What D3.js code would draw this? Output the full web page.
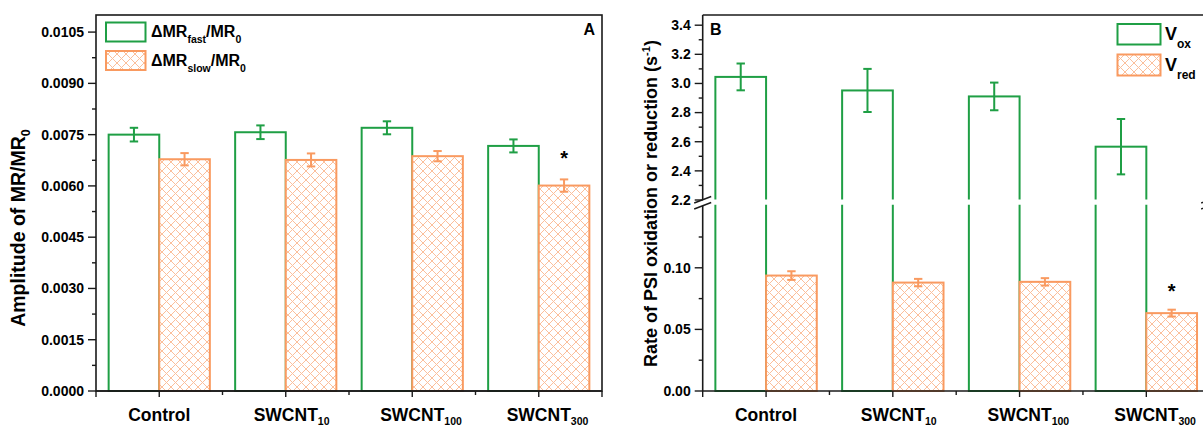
<!DOCTYPE html>
<html><head><meta charset="utf-8">
<script src="https://cdn.jsdelivr.net/npm/d3@7"></script>
<style>
body{margin:0;background:#fff}
svg{display:block}
text{font-family:"Liberation Sans",Arial,sans-serif;font-weight:bold;fill:#000}
</style>
</head><body>
<svg id="c" width="1203" height="427"></svg>
<script>
// ---------- data ----------
const categories = ["Control", "SWCNT10", "SWCNT100", "SWCNT300"];
const catMain = ["Control", "SWCNT", "SWCNT", "SWCNT"];
const catSub = ["", "10", "100", "300"];

// Panel A
const fastA = [0.00750, 0.00757, 0.00770, 0.00717];
const fastAErr = [0.00020, 0.00020, 0.00019, 0.00019];
const slowA = [0.00678, 0.00676, 0.00687, 0.00601];
const slowAErr = [0.00018, 0.00019, 0.00015, 0.00018];
const ticksA = [0, 0.0015, 0.0030, 0.0045, 0.0060, 0.0075, 0.0090, 0.0105];
const signifA = [false, false, false, true];

// Panel B
const vOx = [3.045, 2.952, 2.911, 2.566];
const vOxErr = [0.092, 0.148, 0.095, 0.190];
const vRed = [0.0937, 0.0880, 0.0886, 0.0632];
const vRedErr = [0.0035, 0.0030, 0.0030, 0.0028];
const ticksBUpper = [2.2, 2.4, 2.6, 2.8, 3.0, 3.2, 3.4];
const ticksBLower = [0, 0.05, 0.10];
const signifB = [false, false, false, true];

// ---------- style ----------
const GREEN = "#1f9f45", ORANGE = "#f99a60", HATCH = "#fbbf9b", AXIS = "#1a1a1a";
const svg = d3.select("#c");

const defs = svg.append("defs");
const pat = defs.append("pattern").attr("id", "hatch").attr("patternUnits", "userSpaceOnUse")
  .attr("width", 9).attr("height", 9);
pat.append("rect").attr("width", 9).attr("height", 9).attr("fill", "#fff");
pat.append("path").attr("d", "M0,0L9,9M9,0L0,9M-1,8L1,10M8,-1L10,1M-1,1L1,-1M8,10L10,8")
  .attr("stroke", HATCH).attr("stroke-width", 1).attr("fill", "none");

function clip(id, x, y, w, h) {
  defs.append("clipPath").attr("id", id).append("rect").attr("x", x).attr("y", y).attr("width", w).attr("height", h);
}

function drawXAxis(g, x, y0, left, right) {
  g.append("line").attr("x1", left).attr("x2", right).attr("y1", y0).attr("y2", y0)
    .attr("stroke", AXIS).attr("stroke-width", 1.6);
  const step = x.step();
  categories.forEach((c, i) => {
    const cx = x(c) + x.bandwidth() / 2;
    g.append("line").attr("x1", cx).attr("x2", cx).attr("y1", y0).attr("y2", y0 + 6)
      .attr("stroke", AXIS).attr("stroke-width", 1.4);
    if (i < categories.length - 1) {
      const mx = cx + step / 2;
      g.append("line").attr("x1", mx).attr("x2", mx).attr("y1", y0).attr("y2", y0 + 4)
        .attr("stroke", AXIS).attr("stroke-width", 1.4);
    }
    const t = g.append("text").attr("y", 420.5).attr("font-size", 17.5);
    const main = t.append("tspan").text(catMain[i]);
    if (catSub[i]) t.append("tspan").attr("font-size", 10.5).attr("dy", 4).text(catSub[i]);
    const w = main.node().getComputedTextLength();
    t.attr("x", cx - w / 2);
  });
  [left, right].forEach(xx => {
    g.append("line").attr("x1", xx).attr("x2", xx).attr("y1", y0).attr("y2", y0 + 6)
      .attr("stroke", AXIS).attr("stroke-width", 1.4);
  });
}

function yTicks(g, xAxis, y, ticks, minors, fmt) {
  ticks.forEach(v => {
    g.append("line").attr("x1", xAxis - 8).attr("x2", xAxis).attr("y1", y(v)).attr("y2", y(v))
      .attr("stroke", AXIS).attr("stroke-width", 1.4);
    g.append("text").attr("x", xAxis - 12).attr("y", y(v)).attr("dy", "0.35em")
      .attr("text-anchor", "end").attr("font-size", 14).text(fmt(v));
  });
  minors.forEach(v => {
    g.append("line").attr("x1", xAxis - 4).attr("x2", xAxis).attr("y1", y(v)).attr("y2", y(v))
      .attr("stroke", AXIS).attr("stroke-width", 1.4);
  });
}

function errBar(g, cx, yTop, yBot, color) {
  g.append("line").attr("x1", cx).attr("x2", cx).attr("y1", yTop).attr("y2", yBot)
    .attr("stroke", color).attr("stroke-width", 2);
  [yTop, yBot].forEach(yy => g.append("line").attr("x1", cx - 4.2).attr("x2", cx + 4.2)
    .attr("y1", yy).attr("y2", yy).attr("stroke", color).attr("stroke-width", 2));
}

// ================= Panel A =================
{
  const L = 96, R = 602, T = 15, B = 391;
  const g = svg.append("g");
  const x = d3.scaleBand().domain(categories).range([L, R]).paddingInner(0.2).paddingOuter(0.1);
  const x1 = d3.scaleBand().domain(["fast", "slow"]).range([0, x.bandwidth()]);
  const y = d3.scaleLinear().domain([0, 0.011]).range([B, T]);

  categories.forEach((c, i) => {
    g.append("rect").attr("x", x(c) + x1("fast")).attr("width", x1.bandwidth())
      .attr("y", y(fastA[i])).attr("height", B - y(fastA[i]))
      .attr("fill", "#fff").attr("stroke", GREEN).attr("stroke-width", 2);
    errBar(g, x(c) + x1("fast") + x1.bandwidth() / 2, y(fastA[i] + fastAErr[i]), y(fastA[i] - fastAErr[i]), GREEN);
  });
  categories.forEach((c, i) => {
    g.append("rect").attr("x", x(c) + x1("slow")).attr("width", x1.bandwidth())
      .attr("y", y(slowA[i])).attr("height", B - y(slowA[i]))
      .attr("fill", "url(#hatch)").attr("stroke", ORANGE).attr("stroke-width", 2);
    const cx = x(c) + x1("slow") + x1.bandwidth() / 2;
    errBar(g, cx, y(slowA[i] + slowAErr[i]), y(slowA[i] - slowAErr[i]), ORANGE);
    if (signifA[i]) g.append("text").attr("x", cx).attr("y", y(slowA[i] + slowAErr[i]) - 14)
      .attr("text-anchor", "middle").attr("font-size", 20).text("*");
  });

  g.append("rect").attr("x", L).attr("y", T).attr("width", R - L).attr("height", B - T)
    .attr("fill", "none").attr("stroke", AXIS).attr("stroke-width", 1.6);
  drawXAxis(g, x, B, L, R);
  const minors = d3.range(0.00075, 0.0110, 0.0015);
  yTicks(g, L, y, ticksA, minors, d3.format(".4f"));

  g.append("text").attr("transform", `translate(25,228) rotate(-90)`).attr("text-anchor", "middle")
    .attr("font-size", 19.5)
    .call(t => { t.append("tspan").text("Amplitude of MR/MR"); t.append("tspan").attr("font-size", 12.5).attr("dy", 5).text("0"); });

  g.append("text").attr("x", 595).attr("y", 35).attr("text-anchor", "end").attr("font-size", 16).text("A");

  // legend
  g.append("rect").attr("x", 106).attr("y", 22.5).attr("width", 39.5).attr("height", 19)
    .attr("fill", "#fff").attr("stroke", GREEN).attr("stroke-width", 2);
  g.append("rect").attr("x", 106).attr("y", 51).attr("width", 39.5).attr("height", 19)
    .attr("fill", "url(#hatch)").attr("stroke", ORANGE).attr("stroke-width", 2);
  g.append("text").attr("x", 151).attr("y", 37).attr("font-size", 16)
    .call(t => {
      t.append("tspan").text("ΔMR");
      t.append("tspan").attr("font-size", 10.5).attr("dy", 6).text("fast");
      t.append("tspan").attr("dy", -6).text("/MR");
      t.append("tspan").attr("font-size", 10.5).attr("dy", 6).text("0");
    });
  g.append("text").attr("x", 151).attr("y", 65.5).attr("font-size", 16)
    .call(t => {
      t.append("tspan").text("ΔMR");
      t.append("tspan").attr("font-size", 10.5).attr("dy", 6).text("slow");
      t.append("tspan").attr("dy", -6).text("/MR");
      t.append("tspan").attr("font-size", 10.5).attr("dy", 6).text("0");
    });
}

// ================= Panel B =================
{
  const L = 702.7, R = 1209.7, T = 15, B = 391;
  const upBot = 200, lowTop = 206.2;
  const g = svg.append("g");
  const x = d3.scaleBand().domain(categories).range([L, R]).paddingInner(0.2).paddingOuter(0.1);
  const x1 = d3.scaleBand().domain(["ox", "red"]).range([0, x.bandwidth()]);
  const yU = d3.scaleLinear().domain([2.2, 3.47]).range([upBot, T]);
  const yL = d3.scaleLinear().domain([0, 0.15]).range([B, lowTop]);

  clip("clipUp", 0, 0, 1300, upBot - 0.5);
  clip("clipLow", 0, lowTop - 1.5, 1300, 300);

  const gU = g.append("g").attr("clip-path", "url(#clipUp)");
  const gL = g.append("g").attr("clip-path", "url(#clipLow)");

  categories.forEach((c, i) => {
    const bx = x(c) + x1("ox");
    gU.append("rect").attr("x", bx).attr("width", x1.bandwidth())
      .attr("y", yU(vOx[i])).attr("height", upBot + 20 - yU(vOx[i]))
      .attr("fill", "#fff").attr("stroke", GREEN).attr("stroke-width", 2);
    gL.append("rect").attr("x", bx).attr("width", x1.bandwidth())
      .attr("y", lowTop - 20).attr("height", B - lowTop + 20)
      .attr("fill", "#fff").attr("stroke", GREEN).attr("stroke-width", 2);
    errBar(g, bx + x1.bandwidth() / 2, yU(vOx[i] + vOxErr[i]), yU(vOx[i] - vOxErr[i]), GREEN);
  });
  categories.forEach((c, i) => {
    const bx = x(c) + x1("red");
    const cx = bx + x1.bandwidth() / 2;
    g.append("rect").attr("x", bx).attr("width", x1.bandwidth())
      .attr("y", yL(vRed[i])).attr("height", B - yL(vRed[i]))
      .attr("fill", "url(#hatch)").attr("stroke", ORANGE).attr("stroke-width", 2);
    errBar(g, cx, yL(vRed[i] + vRedErr[i]), yL(vRed[i] - vRedErr[i]), ORANGE);
    if (signifB[i]) g.append("text").attr("x", cx).attr("y", yL(vRed[i] + vRedErr[i]) - 12)
      .attr("text-anchor", "middle").attr("font-size", 20).text("*");
  });

  g.append("line").attr("x1", L).attr("x2", R).attr("y1", T).attr("y2", T).attr("stroke", AXIS).attr("stroke-width", 1.6);
  [L, R].forEach(ax => {
    g.append("line").attr("x1", ax).attr("x2", ax).attr("y1", T).attr("y2", upBot).attr("stroke", AXIS).attr("stroke-width", 1.6);
    g.append("line").attr("x1", ax).attr("x2", ax).attr("y1", lowTop - 0.5).attr("y2", B).attr("stroke", AXIS).attr("stroke-width", 1.6);
    g.append("path").attr("d", `M${ax - 8.5},${upBot + 3}L${ax + 8.5},${upBot - 3.5}M${ax - 8.5},${upBot + 9}L${ax + 8.5},${upBot + 2.5}`)
      .attr("stroke", AXIS).attr("stroke-width", 1.4).attr("fill", "none");
  });
  drawXAxis(g, x, B, L, R);
  yTicks(g, L, yU, ticksBUpper, [2.3, 2.5, 2.7, 2.9, 3.1, 3.3], d3.format(".1f"));
  yTicks(g, L, yL, ticksBLower, [0.025, 0.075, 0.125], d3.format(".2f"));

  g.append("text").attr("transform", `translate(657,203.5) rotate(-90)`).attr("text-anchor", "middle")
    .attr("font-size", 18)
    .call(t => {
      t.append("tspan").text("Rate of PSI oxidation or reduction (s");
      t.append("tspan").attr("font-size", 11).attr("dy", -7).text("-1");
      t.append("tspan").attr("dy", 7).text(")");
    });

  g.append("text").attr("x", 710).attr("y", 35).attr("font-size", 16).text("B");

  g.append("rect").attr("x", 1117.5).attr("y", 24).attr("width", 43).attr("height", 20.5)
    .attr("fill", "#fff").attr("stroke", GREEN).attr("stroke-width", 2);
  g.append("rect").attr("x", 1117.5).attr("y", 54.5).attr("width", 43).attr("height", 21)
    .attr("fill", "url(#hatch)").attr("stroke", ORANGE).attr("stroke-width", 2);
  g.append("text").attr("x", 1165).attr("y", 40).attr("font-size", 18)
    .call(t => { t.append("tspan").text("V"); t.append("tspan").attr("font-size", 12).attr("dy", 8).text("ox"); });
  g.append("text").attr("x", 1165).attr("y", 70.5).attr("font-size", 18)
    .call(t => { t.append("tspan").text("V"); t.append("tspan").attr("font-size", 12).attr("dy", 8.5).text("red"); });
}
</script>
</body></html>
